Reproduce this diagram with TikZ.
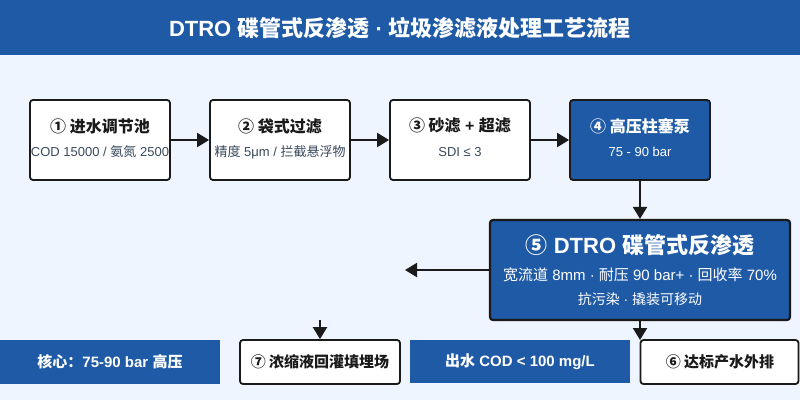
\documentclass[tikz,border=0pt]{standalone}
\usepackage{fontspec}
\setmainfont{Liberation Sans}
\newfontfamily\cjk{Noto Sans CJK SC}
\newcommand\cj[1]{{\cjk #1}}
\usetikzlibrary{arrows.meta}
\definecolor{bg}{HTML}{EEF5FE}
\definecolor{blu}{HTML}{1F5AA6}
\definecolor{ink}{HTML}{1A1A1A}
\definecolor{sub}{HTML}{3A4A5C}
\tikzset{
  stepbox/.style={draw=ink, line width=1.8pt, rounded corners=3pt, fill=white, minimum width=140pt, minimum height=80pt, inner sep=0pt},
  bluebox/.style={stepbox, fill=blu},
  band/.style={fill=blu, draw=none, text=white, font=\fontsize{15}{17}\selectfont\bfseries, inner sep=0pt},
  conn/.style={draw=ink, line width=2pt, -{Triangle[length=12pt,width=14pt]}},
  ttl/.style={font=\fontsize{16}{19}\selectfont\bfseries, text=ink},
  sbt/.style={font=\fontsize{13}{15}\selectfont, text=sub},
}
\begin{document}
\begin{tikzpicture}[x=1pt,y=-1pt]
\useasboundingbox (0,0) rectangle (800,400);
\fill[bg] (0,0) rectangle (800,400);
\fill[blu] (0,0) rectangle (800,55);
\node[text=white, font=\fontsize{22}{26}\selectfont\bfseries] (title) at (400,28) {DTRO \cj{碟管式反渗透} · \cj{垃圾渗滤液处理工艺流程}};

\node[stepbox] (b1) at (100,140) {};
\node[ttl] at (100,126) {\cj{① 进水调节池}};
\node[sbt] at (100,152) {COD 15000 / \cj{氨氮} 2500};

\node[stepbox] (b2) at (280,140) {};
\node[ttl] at (280,126) {\cj{② 袋式过滤}};
\node[sbt] at (280,152) {\cj{精度} 5μm / \cj{拦截悬浮物}};

\node[stepbox] (b3) at (460,140) {};
\node[ttl] at (460,126) {\cj{③ 砂滤} + \cj{超滤}};
\node[sbt] at (460,152) {SDI ≤ 3};

\node[bluebox] (b4) at (640,140) {};
\node[ttl, text=white] at (640,126) {\cj{④ 高压柱塞泵}};
\node[sbt, text=white] at (640,152) {75 - 90 bar};

\node[bluebox, minimum width=300pt, minimum height=100pt, line width=2.2pt] (b5) at (640,270) {};
\node[font=\fontsize{22}{26}\selectfont\bfseries, text=white] at (640,245) {\cj{⑤} DTRO \cj{碟管式反渗透}};
\node[font=\fontsize{15}{18}\selectfont, text=white] at (640,275) {\cj{宽流道} 8mm · \cj{耐压} 90 bar+ · \cj{回收率} 70\%};
\node[font=\fontsize{14}{16}\selectfont, text=white] at (640,299) {\cj{抗污染} · \cj{撬装可移动}};

\node[band, minimum width=220pt, minimum height=44pt] (k1) at (110,362) {\cj{核心：}75-90 bar \cj{高压}};
\node[band, minimum width=220pt, minimum height=43pt] (k2) at (520,361.5) {\cj{出水} COD < 100 mg/L};

\node[stepbox, minimum width=160pt, minimum height=44pt] (b7) at (320,362) {};
\node[ttl, font=\fontsize{15}{18}\selectfont\bfseries] at (320,362) {\cj{⑦ 浓缩液回灌填埋场}};

\node[stepbox, minimum width=158pt, minimum height=44pt] (b6) at (719.5,362) {};
\node[ttl, font=\fontsize{15}{18}\selectfont\bfseries] at (720,362) {\cj{⑥ 达标产水外排}};

\draw[conn] (b1) -- (b2);
\draw[conn] (b2) -- (b3);
\draw[conn] (b3) -- (b4);
\draw[conn] (b4) -- (b5);
\coordinate (lend) at (405,270);
\draw[conn] (b5.west) -- (lend);
\coordinate (s7) at (320,320);
\draw[conn] (s7) -- (b7.north);
\draw[conn] (b5.south) -- (640,340);
\end{tikzpicture}
\end{document}
